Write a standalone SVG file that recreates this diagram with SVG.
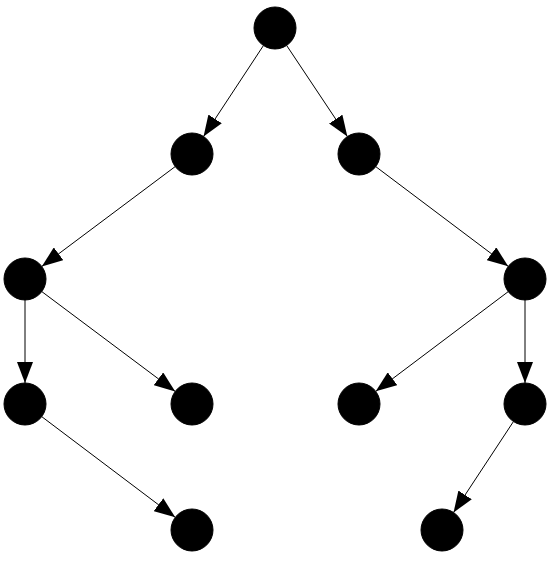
<svg xmlns="http://www.w3.org/2000/svg" width="558" height="565" viewBox="0 0 558 565">
<style>
.n{fill:#000;stroke:#000;stroke-width:1}
.e{stroke:#000;stroke-width:1;fill:none;marker-end:url(#ah)}
</style>
<defs>
<marker id="ah" viewBox="0 0 21 16" refX="21" refY="8" markerWidth="21" markerHeight="16" markerUnits="userSpaceOnUse" orient="auto">
<path d="M0,0 L21,8 L0,16 z" fill="#000"/>
</marker>
</defs>
<rect width="558" height="565" fill="#fff"/>
<g id="edges">
<line class="e" x1="263.45" y1="45.54" x2="203.55" y2="136.46"/>
<line class="e" x1="286.65" y1="45.47" x2="347.35" y2="136.53"/>
<line class="e" x1="175.19" y1="166.58" x2="41.81" y2="266.42"/>
<line class="e" x1="375.78" y1="166.63" x2="508.22" y2="266.37"/>
<line class="e" x1="25" y1="300" x2="25" y2="383"/>
<line class="e" x1="41.81" y1="291.58" x2="175.19" y2="391.42"/>
<line class="e" x1="508.22" y1="291.63" x2="375.78" y2="391.37"/>
<line class="e" x1="525" y1="300" x2="525" y2="383"/>
<line class="e" x1="41.76" y1="416.65" x2="175.24" y2="517.35"/>
<line class="e" x1="513.45" y1="421.54" x2="453.55" y2="512.46"/>
</g>
<g id="n0"><circle class="n" cx="275" cy="28" r="21"/></g>
<g id="n1"><circle class="n" cx="192" cy="154" r="21"/></g>
<g id="n2"><circle class="n" cx="359" cy="154" r="21"/></g>
<g id="n3"><circle class="n" cx="25" cy="279" r="21"/></g>
<g id="n4"><circle class="n" cx="525" cy="279" r="21"/></g>
<g id="n5"><circle class="n" cx="25" cy="404" r="21"/></g>
<g id="n6"><circle class="n" cx="192" cy="404" r="21"/></g>
<g id="n7"><circle class="n" cx="359" cy="404" r="21"/></g>
<g id="n8"><circle class="n" cx="525" cy="404" r="21"/></g>
<g id="n9"><circle class="n" cx="192" cy="530" r="21"/></g>
<g id="n10"><circle class="n" cx="442" cy="530" r="21"/></g>
</svg>
